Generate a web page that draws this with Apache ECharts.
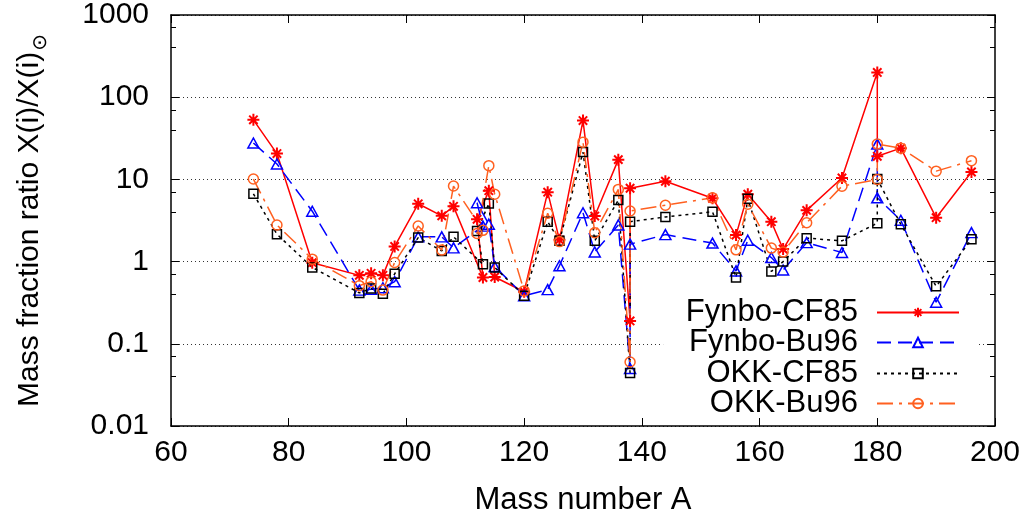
<!DOCTYPE html>
<html>
<head>
<meta charset="utf-8">
<title>Mass fraction ratio</title>
<script src="https://cdn.jsdelivr.net/npm/echarts@6/dist/echarts.min.js"></script>
<style>
  html, body { margin: 0; padding: 0; background: #fff; }
  #chart { width: 1031px; height: 525px; }
</style>
</head>
<body>
<div id="chart"></div>
<script>
// mass numbers, in the order the points are joined (113 before 112, two points at 138 and 180)
var massNumbers = [74, 78, 84, 92, 94, 96, 98, 102, 106, 108, 113, 112, 114, 115, 120, 124, 126, 130, 132, 136,
  138, 138, 144, 152, 156, 158, 162, 164, 168, 174, 180, 180, 184, 190, 196];

var fynboCF85 = [53, 20.6, 0.97, 0.68, 0.72, 0.68, 1.53, 5.05, 3.6, 4.7, 0.64, 3.27, 7.3, 0.65, 0.43, 7.0, 1.84, 52, 3.58, 17.4,
  0.19, 7.8, 9.5, 5.9, 2.1, 6.6, 3.06, 1.42, 4.2, 10.4, 200, 19.1, 24, 3.42, 12.3];
var fynboBu96 = [27.7, 15.4, 4.1, 0.45, 0.46, 0.48, 0.57, 2.0, 2.0, 1.47, 2.7, 5.2, 2.85, 0.87, 0.385, 0.456, 0.89, 3.93, 1.31, 2.79,
  0.05, 1.63, 2.13, 1.68, 0.77, 1.82, 1.12, 0.79, 1.7, 1.29, 26.9, 5.97, 3.18, 0.32, 2.25];
var okkCF85 = [6.67, 2.15, 0.85, 0.416, 0.47, 0.405, 0.71, 1.96, 1.35, 2.0, 0.93, 2.36, 5.1, 0.85, 0.385, 3.06, 1.79, 21.5, 1.79, 5.6,
  0.044, 3.06, 3.49, 4.04, 0.64, 5.8, 0.76, 1.0, 1.93, 1.79, 2.93, 10.1, 2.84, 0.5, 1.87];
var okkBu96 = [10.1, 2.79, 1.07, 0.51, 0.57, 0.45, 0.975, 2.71, 1.38, 8.3, 2.4, 2.2, 14.7, 6.6, 0.44, 3.87, 1.75, 28.4, 2.25, 7.55,
  0.06, 4.12, 4.85, 5.97, 1.39, 5.0, 1.46, 1.31, 2.97, 8.27, 9.97, 26.9, 24, 12.6, 16.9];

var seriesNames = ['Fynbo-CF85', 'Fynbo-Bu96', 'OKK-CF85', 'OKK-Bu96'];
var xTickLabels = ['60', '80', '100', '120', '140', '160', '180', '200'];
var yTickLabels = ['0.01', '0.1', '1', '10', '100', '1000'];

var FONT = 'Liberation Sans';

// gnuplot-like point types
var SYM_STAR = 'path://M5,0L5,10M0,5L10,5M1.5,1.5L8.5,8.5M1.5,8.5L8.5,1.5';
var SYM_TRI = 'path://M5,0L10,8.66L0,8.66Z';
var SYM_BOX = 'path://M0,0L10,0L10,10L0,10Z';
var SYM_CIRC = 'path://M10,5A5,5,0,1,1,0,5A5,5,0,1,1,10,5Z';

function pairs(values) {
  return massNumbers.map(function (a, i) { return [a, values[i]]; });
}

function makeSeries(name, values, color, dash, symbol, size, symW) {
  return {
    name: name,
    type: 'line',
    data: pairs(values),
    symbol: symbol,
    symbolSize: size,
    showAllSymbol: true,
    lineStyle: { color: color, width: 1.5, type: dash },
    itemStyle: { color: 'rgba(0,0,0,0)', borderColor: color, borderWidth: symW },
    emphasis: { disabled: true },
    z: 3
  };
}

function legendRow(name, top, bg) {
  return {
    data: [name],
    right: 71 - (bg ? 18 : 0),
    top: top,
    orient: 'horizontal',
    align: 'right',
    itemWidth: 82,
    itemHeight: 12,
    padding: bg ? [0, 18, 0, 26] : 0,
    backgroundColor: bg ? '#fff' : 'transparent',
    selectedMode: false,
    textStyle: { fontFamily: FONT, fontSize: 31, color: '#000', lineHeight: 30, padding: [0, 14, 0, 0] }
  };
}

var chart = echarts.init(document.getElementById('chart'));
chart.setOption({
  animation: false,
  backgroundColor: '#fff',
  grid: { left: 171, right: 36, top: 13, bottom: 99 },
  legend: [
    legendRow(seriesNames[0], 297, false),
    legendRow(seriesNames[1], 327, true),
    legendRow(seriesNames[2], 358, false),
    legendRow(seriesNames[3], 388, false)
  ],
  xAxis: [{
    type: 'value', position: 'bottom', min: 60, max: 200, interval: 20,
    axisLine: { lineStyle: { color: '#000', width: 1.5 } },
    axisTick: { inside: true, length: 8, lineStyle: { color: '#000', width: 1 } },
    axisLabel: {
      color: '#000', fontFamily: FONT, fontSize: 30, margin: 12,
      formatter: function (v) { return xTickLabels[Math.round((v - 60) / 20)]; }
    },
    splitLine: { show: false },
    name: 'Mass number A', nameLocation: 'middle', nameGap: 59,
    nameTextStyle: { color: '#000', fontFamily: FONT, fontSize: 31 }
  }, {
    type: 'value', position: 'top', min: 60, max: 200, interval: 20,
    axisLine: { lineStyle: { color: '#000', width: 1.5 } },
    axisTick: { inside: true, length: 8, lineStyle: { color: '#000', width: 1 } },
    axisLabel: { show: false },
    splitLine: { show: false }
  }],
  yAxis: [{
    type: 'log', logBase: 10, position: 'left', min: 0.01, max: 1000,
    axisLine: { lineStyle: { color: '#000', width: 1.5 } },
    axisTick: { inside: true, length: 8, lineStyle: { color: '#000', width: 1 } },
    minorTick: { show: true, splitNumber: 3, length: 5, lineStyle: { color: '#000', width: 1 } },
    axisLabel: {
      color: '#000', fontFamily: FONT, fontSize: 30, margin: 22,
      formatter: function (v) { return yTickLabels[Math.round(Math.log10(v)) + 2]; }
    },
    splitLine: { show: true, lineStyle: { color: '#333', width: 1, type: [1, 3] } },
    name: 'Mass fraction ratio X(i)/X(i){sun|⊙}', nameLocation: 'middle', nameGap: 126,
    nameTextStyle: {
      color: '#000', fontFamily: FONT, fontSize: 30,
      rich: { sun: { fontFamily: 'DejaVu Sans', fontSize: 20, lineHeight: 20, padding: [22, 0, 0, 1], color: '#000' } }
    }
  }, {
    type: 'log', logBase: 10, position: 'right', min: 0.01, max: 1000,
    axisLine: { lineStyle: { color: '#000', width: 1.5 } },
    axisTick: { inside: true, length: 8, lineStyle: { color: '#000', width: 1 } },
    minorTick: { show: true, splitNumber: 3, length: 5, lineStyle: { color: '#000', width: 1 } },
    axisLabel: { show: false },
    splitLine: { show: false }
  }],
  series: [
    makeSeries(seriesNames[0], fynboCF85, '#ff0000', 'solid', SYM_STAR, 12, 2),
    makeSeries(seriesNames[1], fynboBu96, '#0000ff', [14, 7], SYM_TRI, [11, 10], 1.5),
    makeSeries(seriesNames[2], okkCF85, '#000000', [3, 4], SYM_BOX, 9, 1.5),
    makeSeries(seriesNames[3], okkBu96, '#ff6020', [16, 6, 3, 6], SYM_CIRC, 10, 1.5)
  ]
});
</script>
</body>
</html>
